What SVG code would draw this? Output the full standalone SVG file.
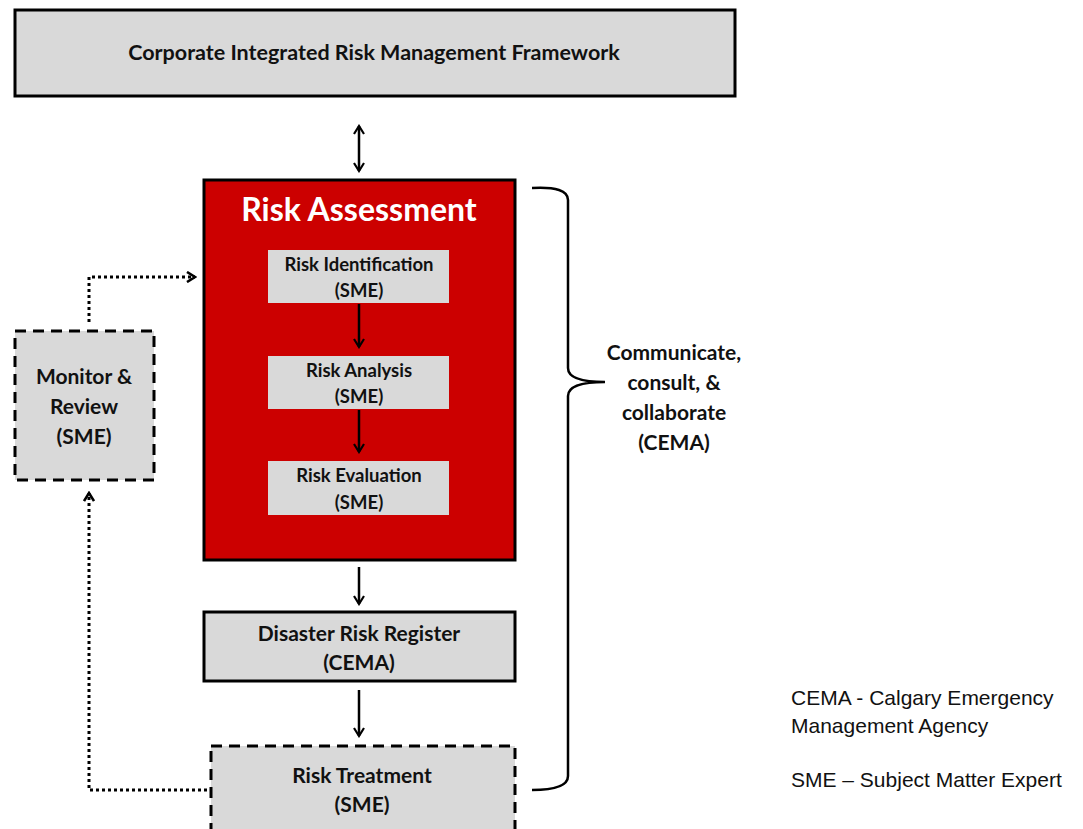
<svg xmlns="http://www.w3.org/2000/svg" width="1083" height="829" viewBox="0 0 1083 829">
<style>
.box{fill:#d9d9d9;stroke:#000;stroke-width:3}
.dash{fill:#d9d9d9;stroke:#000;stroke-width:3;stroke-dasharray:11,7}
.inner{fill:#d9d9d9}
.t{font-family:Lato,"Open Sans",sans-serif;font-weight:bold;fill:#111;text-anchor:middle}
.leg{font-family:"Liberation Sans",Arial,sans-serif;font-size:21px;fill:#111}
.ar{fill:none;stroke:#000;stroke-width:2.5}
.dot{fill:none;stroke:#000;stroke-width:3;stroke-dasharray:3,3}
</style>
<defs>
<marker id="ah" viewBox="0 0 12 12" refX="10" refY="6" markerWidth="12" markerHeight="12" markerUnits="userSpaceOnUse" orient="auto-start-reverse">
<path d="M2,1 L10,6 L2,11" fill="none" stroke="#000" stroke-width="2.2"/>
</marker>
<marker id="ah2" viewBox="0 0 12 12" refX="10" refY="6" markerWidth="12" markerHeight="12" markerUnits="userSpaceOnUse" orient="auto">
<path d="M2,1 L10,6 L2,11" fill="none" stroke="#000" stroke-width="2.6"/>
</marker>
</defs>
<rect width="1083" height="829" fill="#fff"/>

<g id="framework">
<rect class="box" x="15" y="10" width="720" height="86"/>
<text class="t" x="374" y="60" font-size="21.5">Corporate Integrated Risk Management Framework</text>
</g>

<g id="risk-assessment">
<rect x="204" y="180" width="311" height="380" fill="#cc0000" stroke="#000" stroke-width="3"/>
<text x="359" y="221" font-family="Lato,'Open Sans',sans-serif" font-weight="bold" font-size="32" fill="#fff" text-anchor="middle">Risk Assessment</text>
</g>

<g id="risk-identification">
<rect class="inner" x="268" y="250" width="181" height="53"/>
<text class="t" x="359" y="271" font-size="18.5">Risk Identification</text>
<text class="t" x="359" y="297" font-size="18.5">(SME)</text>
</g>

<g id="risk-analysis">
<rect class="inner" x="268" y="356" width="181" height="53"/>
<text class="t" x="359" y="377" font-size="18.5">Risk Analysis</text>
<text class="t" x="359" y="403" font-size="18.5">(SME)</text>
</g>

<g id="risk-evaluation">
<rect class="inner" x="268" y="461" width="181" height="54"/>
<text class="t" x="359" y="482" font-size="18.5">Risk Evaluation</text>
<text class="t" x="359" y="509" font-size="18.5">(SME)</text>
</g>

<g id="disaster-risk-register">
<rect class="box" x="204" y="612" width="311" height="69"/>
<text class="t" x="359" y="641" font-size="21">Disaster Risk Register</text>
<text class="t" x="359" y="670" font-size="21">(CEMA)</text>
</g>

<g id="risk-treatment">
<rect class="dash" x="211" y="746" width="304" height="100"/>
<text class="t" x="362" y="783" font-size="21">Risk Treatment</text>
<text class="t" x="362" y="812" font-size="21">(SME)</text>
</g>

<g id="monitor-review">
<rect class="dash" x="15" y="331" width="139" height="149"/>
<text class="t" x="84" y="384" font-size="21">Monitor &amp;</text>
<text class="t" x="84" y="414" font-size="21">Review</text>
<text class="t" x="84" y="444" font-size="21">(SME)</text>
</g>

<g id="communicate">
<path d="M532,188 Q568,186 568,200 L568,368 Q568,382 605,382 Q568,382 568,396 L568,776 Q568,790 532,790" fill="none" stroke="#000" stroke-width="2.5"/>
<text class="t" x="674" y="360" font-size="21">Communicate,</text>
<text class="t" x="674" y="390" font-size="21">consult, &amp;</text>
<text class="t" x="674" y="420" font-size="21">collaborate</text>
<text class="t" x="674" y="450" font-size="21">(CEMA)</text>
</g>

<g id="legend">
<text class="leg" x="791" y="705">CEMA - Calgary Emergency</text>
<text class="leg" x="791" y="733">Management Agency</text>
<text class="leg" x="791" y="787">SME – Subject Matter Expert</text>
</g>

<g id="connectors">
<line class="ar" x1="359" y1="126" x2="359" y2="171" marker-start="url(#ah)" marker-end="url(#ah)"/>
<line class="ar" x1="359" y1="304" x2="359" y2="347" marker-end="url(#ah)"/>
<line class="ar" x1="359" y1="410" x2="359" y2="452" marker-end="url(#ah)"/>
<line class="ar" x1="359" y1="567" x2="359" y2="604" marker-end="url(#ah)"/>
<line class="ar" x1="359" y1="690" x2="359" y2="736" marker-end="url(#ah)"/>
<polyline class="dot" points="89,322 89,277 195,277" marker-end="url(#ah2)"/>
<polyline class="dot" points="207,790 89,790 89,493" marker-end="url(#ah2)"/>
</g>
</svg>
